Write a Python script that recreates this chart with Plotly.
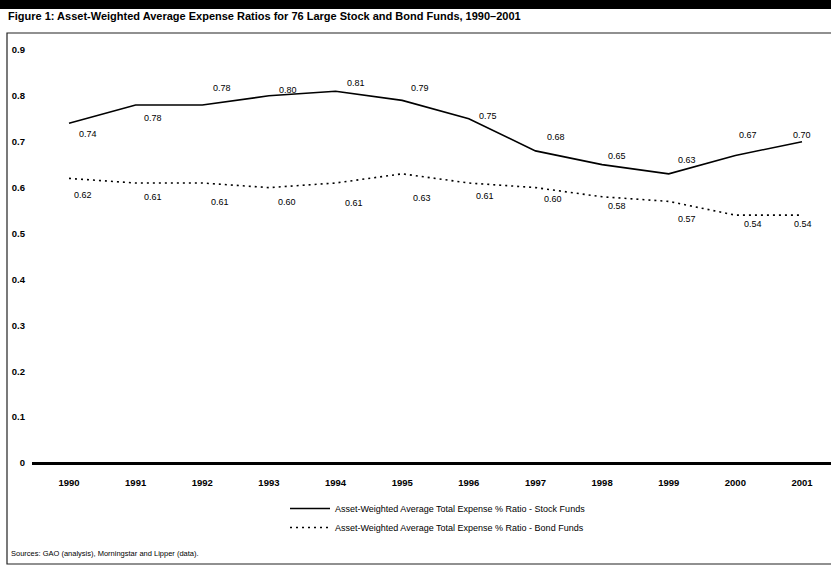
import plotly.graph_objects as go

# ---------------- data ----------------
years = [1990, 1991, 1992, 1993, 1994, 1995, 1996, 1997, 1998, 1999, 2000, 2001]
stock_ratio = [0.74, 0.78, 0.78, 0.80, 0.81, 0.79, 0.75, 0.68, 0.65, 0.63, 0.67, 0.70]
bond_ratio = [0.62, 0.61, 0.61, 0.60, 0.61, 0.63, 0.61, 0.60, 0.58, 0.57, 0.54, 0.54]
y_ticks = [0, 0.1, 0.2, 0.3, 0.4, 0.5, 0.6, 0.7, 0.8, 0.9]
y_tick_labels = ["0", "0.1", "0.2", "0.3", "0.4", "0.5", "0.6", "0.7", "0.8", "0.9"]
stock_name = "Asset-Weighted Average Total Expense % Ratio - Stock Funds"
bond_name = "Asset-Weighted Average Total Expense % Ratio - Bond Funds"
title_text = "Figure 1: Asset-Weighted Average Expense Ratios for 76 Large Stock and Bond Funds, 1990\u20132001"
source_text = "Sources: GAO (analysis), Morningstar and Lipper (data)."

# label placement offsets (pixels: right, down)
stock_dx = [19, 17, 20, 19, 20, 18, 19, 21, 15, 18, 13, 0]
stock_dy = [11, 13, -17, -6, -8, -12, -3, -14, -9, -14, -20, -7]
bond_dx = [14, 17, 18, 18, 18, 20, 16, 18, 15, 18, 18, 1]
bond_dy = [17, 14, 19, 14, 20, 24, 13, 11, 9, 18, 9, 9]

# ---------------- layout geometry ----------------
W, H = 831, 567
L, R, T, B = 32, 0, 33, 101
PW, PH = W - L - R, H - T - B


def px_x(px):
    return (px - L) / PW


def px_y(py):
    return (H - B - py) / PH


FONT = "Liberation Sans, Arial, Helvetica, sans-serif"

fig = go.Figure()
fig.add_trace(go.Scatter(
    x=years, y=stock_ratio, mode="lines", name=stock_name,
    line=dict(color="black", width=1.6),
))
fig.add_trace(go.Scatter(
    x=years, y=bond_ratio, mode="lines", name=bond_name,
    line=dict(color="black", width=1.6, dash="2px,4px"),
))

annotations = []
for yr, v, dx, dy in zip(years, stock_ratio, stock_dx, stock_dy):
    annotations.append(dict(x=yr, y=v, xref="x", yref="y", text=f"{v:.2f}",
                            showarrow=False, xshift=dx, yshift=-dy,
                            font=dict(size=9, color="black", family=FONT)))
for yr, v, dx, dy in zip(years, bond_ratio, bond_dx, bond_dy):
    annotations.append(dict(x=yr, y=v, xref="x", yref="y", text=f"{v:.2f}",
                            showarrow=False, xshift=dx, yshift=-dy,
                            font=dict(size=9, color="black", family=FONT)))
annotations.append(dict(x=px_x(9), y=px_y(553), xref="paper", yref="paper",
                        xanchor="left", yanchor="middle", showarrow=False,
                        text=source_text, font=dict(size=7.5, color="black", family=FONT)))

shapes = [
    # top black band
    dict(type="rect", xref="paper", yref="paper", x0=px_x(-2), x1=px_x(835),
         y0=px_y(9), y1=px_y(-2), fillcolor="black", line=dict(width=0), layer="above"),
    # outer frame
    dict(type="rect", xref="paper", yref="paper", x0=px_x(7), x1=px_x(834),
         y0=px_y(564), y1=px_y(33), line=dict(color="#222", width=1.2),
         fillcolor="rgba(0,0,0,0)"),
]

fig.update_layout(
    width=W, height=H,
    margin=dict(l=L, r=R, t=T, b=B, pad=0, autoexpand=False),
    paper_bgcolor="white", plot_bgcolor="white",
    font=dict(family=FONT, color="black"),
    title=dict(text=title_text, x=8 / W, xanchor="left", xref="container",
               y=1 - 16 / H, yanchor="middle", yref="container",
               font=dict(size=11, color="black", family="Liberation Sans, Arial", weight="bold")),
    xaxis=dict(
        range=[1990 - 37 / 66.6, 2001 + 29 / 66.6],
        tickmode="array", tickvals=years, ticktext=[str(y) for y in years],
        showgrid=False, zeroline=False, showline=False,
        ticks="", ticklabelstandoff=9, automargin=False,
        tickfont=dict(size=9.5, family=FONT, color="black", weight="bold"),
    ),
    yaxis=dict(
        range=[-3 / 459, (H - B - T) / 459 - 3 / 459],
        tickmode="array", tickvals=y_ticks, ticktext=y_tick_labels,
        showgrid=False, showline=False, automargin=False,
        zeroline=True, zerolinecolor="black", zerolinewidth=3,
        ticks="", ticklabelstandoff=6,
        tickfont=dict(size=9.5, family=FONT, color="black", weight="bold"),
    ),
    showlegend=True,
    legend=dict(
        x=285 / W, y=1 - 494 / H, xref="container", yref="container",
        xanchor="left", yanchor="top",
        bgcolor="rgba(0,0,0,0)", borderwidth=0,
        font=dict(size=9, family=FONT, color="black"),
        itemwidth=40, tracegroupgap=0,
    ),
    annotations=annotations,
    shapes=shapes,
)

fig.write_html(
    "out.html",
    config={"displayModeBar": False},
    post_script="document.body.style.margin='0';document.body.style.overflow='hidden';",
)
